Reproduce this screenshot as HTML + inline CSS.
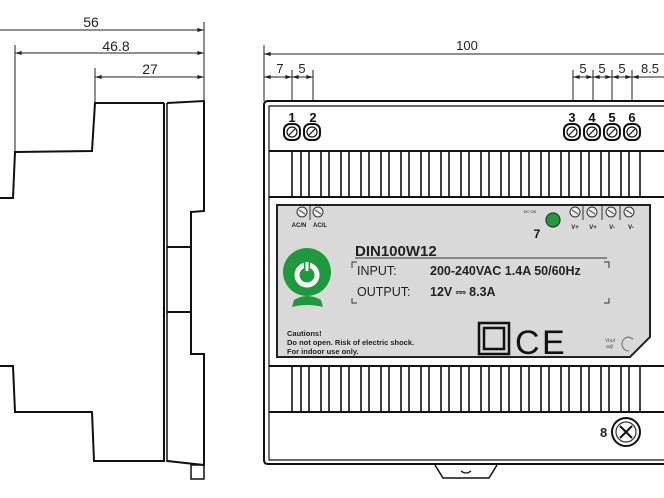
<!DOCTYPE html>
<html><head><meta charset="utf-8"><style>
html,body{margin:0;padding:0;background:#fff;width:664px;height:498px;overflow:hidden}
svg{display:block}
text{font-family:"Liberation Sans","DejaVu Sans",sans-serif}
</style></head><body>
<svg width="664" height="498" viewBox="0 0 664 498" xmlns="http://www.w3.org/2000/svg">
<defs>
<marker id="ar" viewBox="0 0 10 6" refX="10" refY="3" markerWidth="8" markerHeight="4" orient="auto-start-reverse"><path d="M0,0L10,3L0,6z" fill="#222"/></marker>
</defs>
<g stroke="#222" stroke-width="1" fill="none">
<line x1="0" y1="30" x2="204" y2="30" marker-end="url(#ar)"/>
<line x1="204" y1="22" x2="204" y2="100"/>
<line x1="15" y1="53" x2="204" y2="53" marker-start="url(#ar)" marker-end="url(#ar)"/>
<line x1="15" y1="45" x2="15" y2="152"/>
<line x1="95" y1="77" x2="204" y2="77" marker-start="url(#ar)" marker-end="url(#ar)"/>
<line x1="95" y1="68" x2="95" y2="102"/>
</g>
<g fill="#222" font-size="14" text-anchor="middle">
<text x="91" y="27">56</text><text x="116" y="51">46.8</text><text x="150" y="74">27</text>
</g>
<g stroke="#111" stroke-width="2" fill="none" stroke-linejoin="miter">
<path d="M0,198 L13,198 L15,152 L92,151 L95,103 L164,103"/>
<path d="M0,366 L13,366 L15,412 L92,412 L94,461 L164,461"/>
<line x1="164" y1="103" x2="164" y2="462"/>
<line x1="167" y1="103" x2="167" y2="462" stroke-width="1.5"/>
<path d="M167,103 L204,101 L204,211 L191,212 L191,354 L204,354 L204,465 L167,461"/>
<line x1="167" y1="247" x2="191" y2="247"/>
<line x1="167" y1="312" x2="191" y2="312"/>
<rect x="191" y="465" width="13" height="14" stroke-width="1.5"/>
</g>
<g stroke="#222" stroke-width="1" fill="none">
<line x1="264" y1="54" x2="664" y2="54" marker-start="url(#ar)"/>
<line x1="264" y1="45" x2="264" y2="101"/>
<line x1="264" y1="77" x2="292" y2="77" marker-start="url(#ar)" marker-end="url(#ar)"/>
<line x1="292" y1="77" x2="313" y2="77" marker-start="url(#ar)" marker-end="url(#ar)"/>
<line x1="292" y1="70" x2="292" y2="101"/><line x1="313" y1="70" x2="313" y2="101"/>
<line x1="573" y1="77" x2="593" y2="77" marker-start="url(#ar)" marker-end="url(#ar)"/>
<line x1="593" y1="77" x2="612" y2="77" marker-start="url(#ar)" marker-end="url(#ar)"/>
<line x1="612" y1="77" x2="632" y2="77" marker-start="url(#ar)" marker-end="url(#ar)"/>
<line x1="632" y1="77" x2="664" y2="77" marker-start="url(#ar)"/>
<line x1="573" y1="70" x2="573" y2="101"/><line x1="593" y1="70" x2="593" y2="101"/>
<line x1="612" y1="70" x2="612" y2="101"/><line x1="632" y1="70" x2="632" y2="101"/>
</g>
<g fill="#222" font-size="13" text-anchor="middle">
<text x="467" y="50">100</text>
<text x="280" y="73">7</text><text x="302" y="73">5</text>
<text x="583" y="73">5</text><text x="602" y="73">5</text><text x="622" y="73">5</text><text x="650" y="73">8.5</text>
</g>
<g stroke="#111" stroke-width="2" fill="none">
<path d="M668,101 L268,101 Q264,101 264,105 L264,460 Q264,464 268,464 L668,464"/>
<path d="M668,106 L269,106 L269,460 L668,460" stroke-width="1.2"/>
<line x1="269" y1="151" x2="664" y2="151"/>
<line x1="269" y1="197" x2="664" y2="197"/>
<line x1="269" y1="366" x2="664" y2="366"/>
<line x1="269" y1="412" x2="664" y2="412"/>
<path d="M435,465 L443,478 L489,478 L497,465" stroke-width="1.5"/>
<path d="M461,471 Q466,475 471,471" stroke-width="1.2"/>
</g>
<g stroke="#111" stroke-width="1.6">
<line x1="292" y1="151" x2="292" y2="197"/><line x1="292" y1="366" x2="292" y2="412"/>
<path d="M301,151V197M309,151V197M321,151V197M329,151V197M341,151V197M349,151V197M361,151V197M369,151V197M381,151V197M389,151V197M401,151V197M409,151V197M421,151V197M429,151V197M441,151V197M449,151V197M461,151V197M469,151V197M481,151V197M489,151V197M501,151V197M509,151V197M521,151V197M529,151V197M541,151V197M549,151V197M561,151V197M569,151V197M581,151V197M589,151V197M601,151V197M609,151V197M621,151V197M629,151V197M640,151V197"/>
<path d="M301,366V412M309,366V412M321,366V412M329,366V412M341,366V412M349,366V412M361,366V412M369,366V412M381,366V412M389,366V412M401,366V412M409,366V412M421,366V412M429,366V412M441,366V412M449,366V412M461,366V412M469,366V412M481,366V412M489,366V412M501,366V412M509,366V412M521,366V412M529,366V412M541,366V412M549,366V412M561,366V412M569,366V412M581,366V412M589,366V412M601,366V412M609,366V412M621,366V412M629,366V412M640,366V412"/>
</g>
<g font-size="13" font-weight="bold" fill="#111" text-anchor="middle">
<text x="292" y="122">1</text><text x="313" y="122">2</text>
<text x="572" y="122">3</text><text x="592" y="122">4</text><text x="612" y="122">5</text><text x="632" y="122">6</text>
</g>
<g stroke="#111" fill="#fff">
<g stroke-width="2">
<rect x="284" y="124" width="16" height="16" rx="6"/><rect x="304" y="124" width="16" height="16" rx="6"/>
<rect x="564" y="124" width="16" height="16" rx="6"/><rect x="584" y="124" width="16" height="16" rx="6"/>
<rect x="604" y="124" width="16" height="16" rx="6"/><rect x="624" y="124" width="16" height="16" rx="6"/>
</g>
<g stroke-width="1.2">
<circle cx="292" cy="132" r="5"/><circle cx="312" cy="132" r="5"/><circle cx="572" cy="132" r="5"/><circle cx="592" cy="132" r="5"/><circle cx="612" cy="132" r="5"/><circle cx="632" cy="132" r="5"/>
<path d="M289,135L295,129M309,135L315,129M569,135L575,129M589,135L595,129M609,135L615,129M629,135L635,129"/>
</g>
</g>
<path d="M277,205 L650,205 L650,337 L630,357 L277,357 Z" fill="#d9d9d9" stroke="#222" stroke-width="2"/>
<g stroke="#333" fill="#eee" stroke-width="1">
<circle cx="302" cy="212" r="5"/><circle cx="318" cy="212" r="5"/>
<circle cx="575" cy="212" r="5"/><circle cx="592" cy="212" r="5"/><circle cx="611" cy="212" r="5"/><circle cx="629" cy="212" r="5"/>
<path d="M299,210L305,214M315,210L321,214M572,210L578,214M589,210L595,214M608,210L614,214M626,210L632,214"/>
<path d="M310,206V220M583,206V220M602,206V220M620,206V220"/>
</g>
<g font-size="6" font-weight="bold" fill="#222" text-anchor="middle">
<text x="299" y="227">AC/N</text><text x="320" y="227">AC/L</text>
<text x="575" y="229">V+</text><text x="593" y="229">V+</text><text x="612" y="229">V-</text><text x="631" y="229">V-</text>
<text x="530" y="213" font-size="4" font-weight="normal">DC OK</text>
</g>
<circle cx="553" cy="220" r="7" fill="#1e9a3c" stroke="#333" stroke-width="1.2"/>
<text x="537" y="238" font-size="12" font-weight="bold" fill="#111" text-anchor="middle">7</text>
<path d="M294,300 Q307,292 321,300 L323,307 Q307,303 292,307 Z" fill="#1e9a3c"/>
<circle cx="307" cy="272" r="24" fill="#1e9a3c"/>
<circle cx="307" cy="275" r="10" fill="none" stroke="#fff" stroke-width="5"/>
<rect x="304" y="260" width="6" height="12" fill="#1e9a3c"/>
<rect x="305.5" y="262" width="3" height="9" fill="#fff"/>
<text x="355" y="256" font-size="15" font-weight="bold" fill="#222">DIN100W12</text>
<line x1="355" y1="258" x2="607" y2="258" stroke="#333" stroke-width="1"/>
<g stroke="#333" stroke-width="1" fill="none">
<path d="M352,268V262H357M604,262H609V268M352,298V303H357M604,303H609V298"/>
</g>
<g font-size="12.5" fill="#222">
<text x="357" y="275">INPUT:</text><text x="357" y="296">OUTPUT:</text>
<text x="430" y="275" font-weight="bold">200-240VAC  1.4A  50/60Hz</text>
<text x="430" y="296" font-weight="bold">12V ⎓ 8.3A</text>
</g>
<g font-size="7.5" font-weight="bold" fill="#222">
<text x="287" y="336">Cautions!</text>
<text x="287" y="345">Do not open. Risk of electric shock.</text>
<text x="287" y="354">For indoor use only.</text>
</g>
<rect x="479" y="323" width="30" height="31" fill="none" stroke="#111" stroke-width="2.5"/>
<rect x="484" y="328" width="20" height="21" fill="none" stroke="#111" stroke-width="2.5"/>
<text x="515" y="354" font-size="34" fill="#111">C</text>
<text x="542" y="354" font-size="34" fill="#111">E</text>
<text x="605" y="342" font-size="5" fill="#555" font-style="italic">Vout</text>
<text x="606" y="348" font-size="5" fill="#555" font-style="italic">adj.</text>
<path d="M629,337 A7,7 0 1 0 629,351" fill="none" stroke="#666" stroke-width="1"/>
<path d="M629,337 L633,339" stroke="#666"/>
<text x="600" y="437" font-size="13" font-weight="bold" fill="#222">8</text>
<circle cx="626" cy="432" r="14" fill="#fff" stroke="#111" stroke-width="2"/>
<circle cx="626" cy="432" r="10" fill="#fff" stroke="#333" stroke-width="1.2"/>
<path d="M620,426L632,438M632,426L620,438" stroke="#111" stroke-width="2"/>
</svg>
</body></html>
